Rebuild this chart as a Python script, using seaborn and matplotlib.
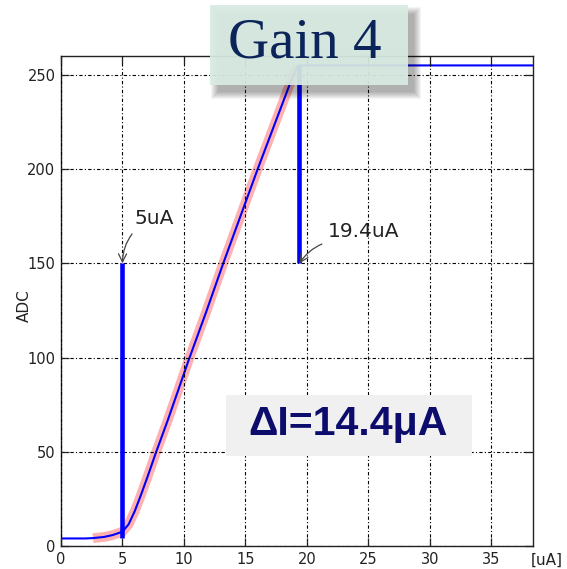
import matplotlib
matplotlib.use("Agg")
import matplotlib.pyplot as plt
import seaborn as sns
from matplotlib.patches import Rectangle

# ---- data ----
current_ua = [0, 1, 2, 2.6, 3.5, 4.2, 5.0, 5.5, 6.0, 6.5, 7.0, 7.72, 8.7, 9.5,
              10.35, 11.8, 13.2, 14.6, 16.0, 17.45, 18.9, 19.3, 25, 30, 38.4]
adc = [4, 4, 4, 4.2, 4.8, 5.8, 7.6, 11.5, 18.5, 27, 36, 49.5, 67, 82,
       98, 124, 150, 175, 200, 225, 250, 255, 255, 255, 255]

band_ua = [2.6, 3.5, 4.2, 5.0, 5.5, 6.0, 6.5, 7.0, 7.72, 8.7, 9.5, 10.35, 11.8,
           13.2, 14.6, 16.0, 17.45, 18.9, 19.3]
band_adc = [4.2, 4.8, 5.8, 7.6, 11.5, 18.5, 27, 36, 49.5, 67, 82, 98, 124,
            150, 175, 200, 225, 250, 255]

marker_ua = [5.0, 19.4]
marker_low = [4, 150]
marker_high = [150, 255]
marker_tip_adc = [150, 150]
marker_labels = ["5uA", "19.4uA"]
marker_text_ua = [6.0, 21.7]
marker_text_adc = [170.6, 164.0]

x_ticks = [0, 5, 10, 15, 20, 25, 30, 35]
y_ticks = [0, 50, 100, 150, 200, 250]

title_text = "Gain 4"
delta_text = "ΔI=14.4μA"

# ---- style ----
sns.set_style("ticks")
plt.rcParams["font.family"] = ["DejaVu Sans"]

W, H = 567, 569
fig = plt.figure(figsize=(W / 100, H / 100), dpi=100)
ax = fig.add_axes([61 / W, 1 - 546 / H, (533 - 61) / W, (546 - 56) / H])

sns.lineplot(x=band_ua, y=band_adc, ax=ax, color="#ff4545", lw=7, alpha=0.42,
             estimator=None, sort=False, solid_capstyle="butt")
sns.lineplot(x=current_ua, y=adc, ax=ax, color="#0000ff", lw=1.5,
             estimator=None, sort=False)
ax.vlines(marker_ua, marker_low, marker_high, color="#0000ff", lw=3.3, zorder=3)

ax.set_xlim(0, 38.4)
ax.set_ylim(0, 260)
ax.set_xticks(x_ticks)
ax.set_yticks(y_ticks)
ax.set_axisbelow(False)
ax.grid(True, color="black", linestyle=(0, (3, 2, 1, 2)), lw=0.8)
for s in ax.spines.values():
    s.set_visible(True)
    s.set_color("#222222")
    s.set_linewidth(1.0)
ax.tick_params(direction="in", top=True, right=True, length=6, width=0.9,
               labelsize=10.5, pad=4, colors="#222222")

ax.set_ylabel("ADC", fontsize=11, color="#222222")
ax.yaxis.set_label_coords(-0.062, 0.49)
ax.set_xlabel("[uA]", fontsize=11, color="#222222")
ax.xaxis.set_label_coords(1.03, -0.029)
ax.xaxis.label.set_va("center")

for lbl, mx, my, tx, ty in zip(marker_labels, marker_ua, marker_tip_adc,
                               marker_text_ua, marker_text_adc):
    ax.annotate(lbl, xy=(mx, my), xytext=(tx, ty), fontsize=14.5, color="#222222",
                va="baseline", ha="left",
                arrowprops=dict(arrowstyle="->", color="#444444", lw=0.9,
                                connectionstyle="arc3,rad=0.2", relpos=(0.05, 0.0),
                                shrinkA=2, shrinkB=0))

# ---- overlay boxes ----
def fig_rect(x0, y0, x1, y1, **kw):
    r = Rectangle((x0 / W, 1 - y1 / H), (x1 - x0) / W, (y1 - y0) / H,
                  transform=fig.transFigure, **kw)
    fig.add_artist(r)
    return r

# soft shadow for the title box
for i in range(8):
    g = 7 - i
    fig_rect(210 + 7 - g + 1, 5 + 8 - g + 1, 408 + 7 + g - 1, 85 + 8 + g - 1,
             facecolor="black", edgecolor="none", alpha=0.045, zorder=5)
fig_rect(210, 5, 408, 85, facecolor="#d9ebe2", edgecolor="none", alpha=0.93, zorder=6)
fig.text(305 / W, 1 - 58 / H, title_text, fontsize=41, family=["Liberation Serif"],
         color="#0b2459", ha="center", va="baseline", zorder=7)

fig_rect(226, 395, 472, 456, facecolor="#f0f0f0", edgecolor="none", zorder=6)
fig.text(348 / W, 1 - 435 / H, delta_text, fontsize=29.5, family=["Liberation Sans"],
         weight="bold", color="#0c0c6c", ha="center", va="baseline", zorder=7)

fig.savefig("out.png", dpi=100)
